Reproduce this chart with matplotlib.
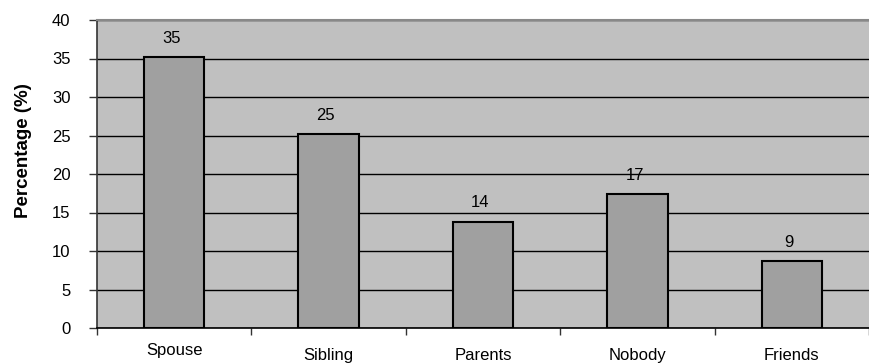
import numpy as np
import matplotlib.pyplot as plt
from matplotlib.transforms import ScaledTranslation

plt.rcParams['font.family'] = ['Liberation Sans', 'DejaVu Sans']

categories = ["Spouse", "Sibling", "Parents", "Nobody", "Friends"]
percent = [35.2, 25.2, 13.8, 17.4, 8.7]
label_drop = [0, 5, 5, 5, 5]  # extra downward shift (px) of each category label

fig = plt.figure(figsize=(8.7, 3.64), dpi=100)
ax = fig.add_axes([97 / 870, 1 - 328 / 364, 772 / 870, 308 / 364])
ax.set_facecolor("#c0c0c0")

x = np.arange(len(categories))
ax.bar(x, percent, width=0.39, color="#a0a0a0", edgecolor="black",
       linewidth=1.5, zorder=3)

for xi, v in zip(x, percent):
    ax.annotate(f"{v:.0f}", (xi, v), xytext=(-2, 13.5), textcoords="offset points",
                ha="center", va="center", fontsize=12, zorder=4)

ax.set_xlim(-0.5, len(categories) - 0.5)
ax.set_ylim(0, 40)
ax.set_yticks(np.arange(0, 41, 5))
ax.yaxis.grid(True, color="black", linewidth=1.0, zorder=1)
ax.set_axisbelow(True)

# boundary ticks between categories, labels sit on minor ticks at the centres
ax.set_xticks(np.arange(-0.5, len(categories), 1.0))
ax.set_xticklabels([])
ax.set_xticks(x, minor=True)
ax.set_xticklabels(categories, minor=True, fontsize=12)
ax.tick_params(axis="x", which="minor", length=0, pad=11)
ax.tick_params(axis="x", which="major", length=5, width=1, color="#333333")
ax.tick_params(axis="y", length=6, width=1, color="#333333", labelsize=12, pad=13)
for lbl, d in zip(ax.get_xticklabels(minor=True), label_drop):
    lbl.set_transform(lbl.get_transform() + ScaledTranslation(0, -d / 100, fig.dpi_scale_trans))

ax.set_ylabel("Percentage (%)", fontsize=13.5, fontweight="bold", va="center")
ax.yaxis.set_label_coords((23 - 97) / 772, (328 - 151) / 308)

ax.spines["top"].set_color("#888888")
ax.spines["right"].set_visible(False)
ax.spines["left"].set_color("#333333")
ax.spines["bottom"].set_color("black")
ax.spines["left"].set_linewidth(1.2)
ax.spines["bottom"].set_linewidth(1.2)
ax.spines["top"].set_linewidth(1.5)

fig.savefig("out.png", dpi=100)
